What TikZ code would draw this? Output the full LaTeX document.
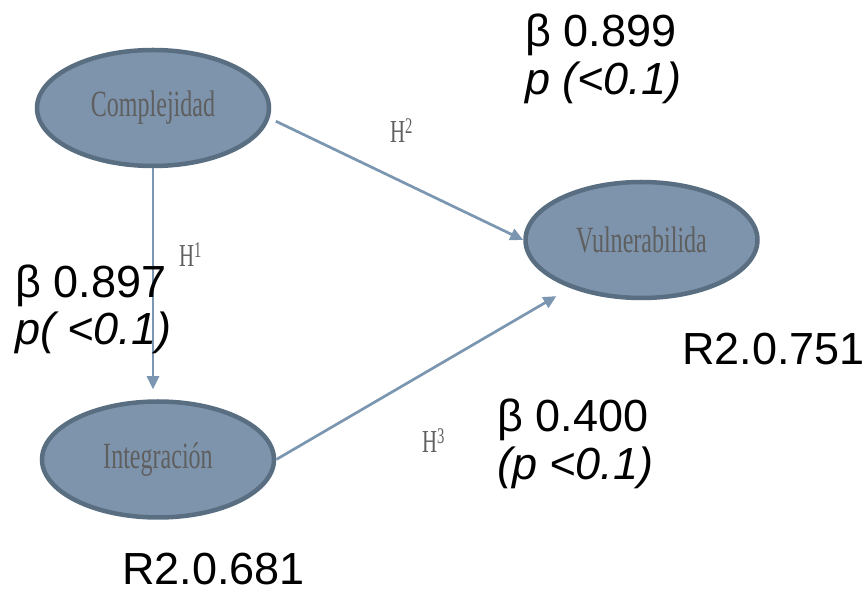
\documentclass[tikz,border=0pt]{standalone}
\usepackage{fontspec}
\usepackage{graphicx}
\newfontfamily\statfont{Liberation Sans}
\newfontfamily\constfont{Liberation Serif}
\usetikzlibrary{
  arrows.meta,
  positioning,
  shapes.geometric
}
\definecolor{ellfill}{HTML}{7D94AC}
\definecolor{elldraw}{HTML}{5A6E82}
\definecolor{pathblue}{HTML}{7A96B0}
\definecolor{labelgray}{HTML}{5F5F5F}
\newcommand{\squeeze}[1]{\scalebox{0.65}[1]{#1}}

\begin{document}
\begin{tikzpicture}[
  x=1pt,
  y=1pt,
  construct/.style={
    ellipse,
    draw=elldraw,
    line width=4.5pt,
    fill=ellfill,
    minimum width=232pt,
    minimum height=116pt,
    text=labelgray,
    font=\constfont\fontsize{37}{40}\selectfont
  },
  hyp/.style={
    anchor=base west,
    inner sep=0pt,
    text=labelgray,
    font=\constfont\fontsize{32}{32}\selectfont
  },
  stat/.style={
    anchor=base west,
    inner sep=0pt,
    font=\statfont\fontsize{45}{54}\selectfont
  },
  arrow/.style={
    -{Triangle[length=13pt,width=12pt]},
    line width=2.7pt,
    draw=pathblue
  }
]
\useasboundingbox (0,0) rectangle (868,592);

\node[construct] (compl) at (153,484) {\squeeze{Complejidad}};
\node[construct,right=252pt of compl,yshift=-132pt] (vuln)
  {\squeeze{Vulnerabilida}};
\node[construct,below=231pt of compl,xshift=5pt] (integ)
  {\squeeze{Integración}};

\draw[arrow,shorten >=10pt] (compl.south) -- (compl.south |- integ.north);
\draw[arrow,shorten <=7pt] (compl.-5) -- (vuln.west);
\draw[arrow,shorten >=16pt] (integ.east) -- (vuln.214);

\node[hyp] (h1) at (179,325) {\squeeze{H\textsuperscript{1}}};
\node[hyp] (h2) at (390,449) {\squeeze{H\textsuperscript{2}}};
\node[hyp] (h3) at (422,139) {\squeeze{H\textsuperscript{3}}};

% path coefficients
\node[stat] (b2) at (525,545) {β 0.899};
\node[stat] (p2) at (525,497) {\itshape p (<0.1)};
\node[stat] (b1) at (15,294) {β 0.897};
\node[stat] (p1) at (15,247) {\itshape p( <0.1)};
\node[stat] (b3) at (497,160) {β 0.400};
\node[stat] (p3) at (497,112) {\itshape (p <0.1)};

% explained variance
\node[stat] (rvuln) at (682,227) {R2.0.751};
\node[stat] (rinteg) at (122,7) {R2.0.681};

\end{tikzpicture}
\end{document}
